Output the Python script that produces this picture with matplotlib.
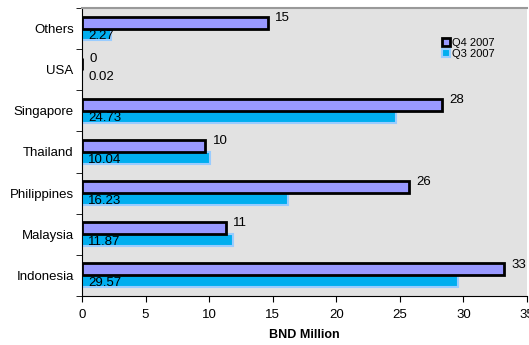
import matplotlib.pyplot as plt
import numpy as np

plt.rcParams['font.family'] = ['Liberation Sans', 'DejaVu Sans']

# data, bottom to top
countries = ['Indonesia', 'Malaysia', 'Philippines', 'Thailand', 'Singapore', 'USA', 'Others']
q4 = [33.2, 11.3, 25.7, 9.7, 28.3, 0.0, 14.6]
q4_labels = ['33', '11', '26', '10', '28', '0', '15']
q3 = [29.57, 11.87, 16.23, 10.04, 24.73, 0.02, 2.27]
q3_labels = ['29.57', '11.87', '16.23', '10.04', '24.73', '0.02', '2.27']

fig = plt.figure(figsize=(5.29, 3.45), dpi=100)
ax = fig.add_axes([0.155, 0.142, 0.841, 0.835])
ax.set_facecolor('#e2e2e2')

y = np.arange(len(countries))
h = 0.29
ax.barh(y - h / 2, q3, height=h, color='#00aeef', edgecolor='#99ccff', linewidth=1.5,
        label='Q3 2007', zorder=2)
ax.barh(y + h / 2, q4, height=h, color='#9999ff', edgecolor='black', linewidth=2,
        label='Q4 2007', zorder=3)

for yi, v, t in zip(y, q4, q4_labels):
    ax.text(v + 0.6, yi + h / 2 + 0.12, t, fontsize=9.5, va='center', ha='left', zorder=4)
for yi, t in zip(y, q3_labels):
    ax.text(0.5, yi - h / 2 - 0.04, t, fontsize=9.5, va='center', ha='left', zorder=4)

ax.set_xlim(0, 35)
ax.set_ylim(-0.5, len(countries) - 0.5)
ax.set_xticks(np.arange(0, 36, 5))
ax.set_yticks(y)
ax.set_yticklabels(countries)
ax.set_yticks(np.arange(-0.5, len(countries), 1), minor=True)
ax.tick_params(axis='y', which='major', length=0, labelsize=9.5, pad=6)
ax.tick_params(axis='y', which='minor', length=4, direction='out')
ax.tick_params(axis='x', length=4, direction='out', labelsize=9.5, pad=5)
ax.set_xlabel('BND Million', fontsize=9, fontweight='bold', labelpad=6)

ax.spines['top'].set_color('#999999')
ax.spines['top'].set_linewidth(1.5)
ax.spines['right'].set_visible(False)

handles, labels = ax.get_legend_handles_labels()
ax.legend(handles[::-1], labels[::-1], loc='upper right', bbox_to_anchor=(0.95, 0.93),
          frameon=False, fontsize=8, handlelength=0.7, handleheight=0.7,
          handletextpad=0.2, labelspacing=0.05)

fig.savefig('out.png', dpi=100)
